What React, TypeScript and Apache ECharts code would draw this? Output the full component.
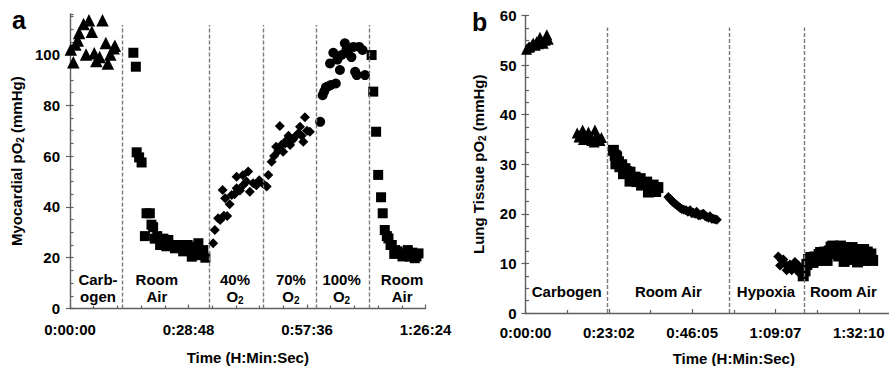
import React, { useEffect, useRef } from 'react';
import * as echarts from 'echarts';

// ---------- tick labels ----------
const aTickLabels = ['0:00:00', '0:28:48', '0:57:36', '1:26:24'];
const bTickLabels = ['0:00:00', '0:23:02', '0:46:05', '1:09:07', '1:32:10'];

// ---------- panel a (minutes, mmHg) ----------
const aCarbogen = [[0.2, 102], [0.8, 97], [1.3, 104], [1.9, 105.5], [2.2, 108.5], [3.3, 112], [3.9, 100], [4.6, 113.5], [5.3, 109], [5.9, 100.5], [6.4, 97.5], [7.2, 99], [7.9, 113.5], [8.7, 104.5], [9.2, 96.5], [9.8, 100], [10.6, 102.5], [10.9, 103.5]];
const aRoomAir1 = [[15.4, 100.7], [16.0, 95.2], [16.2, 61.5], [16.8, 59.5], [17.4, 57.5], [18.2, 28.5], [18.6, 37.5], [19.4, 37.5], [19.8, 33], [20.2, 32], [20.6, 27.5], [21.2, 28.5], [21.9, 25], [22.7, 27.5], [23.4, 24.5], [23.9, 27], [24.7, 25], [25.5, 23.7], [26.2, 24.5], [26.7, 25], [27.5, 22.5], [27.9, 24.3], [28.6, 25], [29.2, 23], [29.6, 20.4], [30.2, 22], [30.8, 24.3], [31.2, 25.7], [31.6, 21], [32.4, 23], [32.9, 20]];
const a40O2 = [[34.8, 25.7], [35.2, 30.9], [36.0, 35.5], [36.5, 34.8], [37.1, 46.7], [37.4, 36.5], [37.7, 43.4], [38.2, 36.4], [38.8, 41], [39.3, 44.7], [40.0, 45], [40.5, 47.3], [40.5, 51.9], [41.3, 46.5], [42.0, 52.5], [42.1, 48.6], [42.9, 50], [43.3, 53.9], [43.7, 46], [44.5, 49.3], [45.3, 48.5], [46.0, 50.5], [47.0, 49], [47.8, 48], [48.2, 52.6]];
const a70O2 = [[49.0, 57.8], [49.6, 60], [50.1, 63.7], [50.6, 62], [51.0, 71.9], [51.4, 64.5], [51.8, 61.7], [52.3, 65], [52.7, 66.3], [53.1, 68], [53.5, 64.4], [54.2, 66.5], [54.7, 67.6], [55.5, 69], [55.9, 71.6], [56.3, 68], [56.7, 65.7], [57.1, 75.3], [57.6, 70], [58.3, 69.6]];
const a100O2 = [[60.8, 73.5], [61.4, 84], [61.8, 85.5], [62.2, 87.1], [62.8, 87.5], [63.2, 96.5], [63.4, 88], [64.0, 100.7], [64.6, 88.6], [65.0, 98], [65.6, 93.9], [66.0, 99.8], [66.8, 104.4], [67.2, 102], [67.6, 100.5], [68.4, 99], [68.9, 103], [69.3, 93.2], [69.7, 91.9], [70.3, 103], [71.1, 101.8], [71.7, 91.9]];
const aRoomAir2 = [[73.3, 99.8], [73.7, 85.4], [74.4, 69.6], [74.9, 52.6], [75.6, 43.8], [76.0, 37.5], [76.5, 30.9], [77.0, 28.5], [77.4, 27.6], [77.9, 25], [78.2, 25], [78.8, 21.5], [79.0, 23], [79.6, 22.5], [80.2, 21.7], [80.8, 20.5], [81.4, 21], [82.1, 23], [82.6, 20.4], [83.2, 22], [83.8, 19.8], [84.2, 20.5], [84.7, 21.7]];
const aBoundaries = [12.64, 33.86, 47.08, 59.86, 72.74];
const aPhaseLabels = ['Carb-\nogen', 'Room\nAir', '40%\nO{sub|2}', '70%\nO{sub|2}', '100%\nO{sub|2}', 'Room\nAir'];
const aPhaseLabelX = [6.8, 21.1, 40.1, 53.7, 66.0, 80.7];

// ---------- panel b (minutes, mmHg) ----------
const bCarbogen1 = [[0.3, 53.2], [0.8, 53.6], [1.2, 53.7], [1.9, 54.2], [2.2, 54.4], [2.7, 54], [3.1, 54.7], [3.6, 54.3], [4.0, 55.6], [4.5, 54.8], [4.9, 54.4], [5.4, 55], [5.9, 56.1], [6.3, 55.2]];
const bCarbogen2 = [[14.3, 36.3], [14.8, 35.5], [15.1, 35.9], [15.8, 36.9], [16.0, 35], [16.7, 35.2], [17.4, 36.5], [17.9, 35.6], [18.3, 34.8], [19.0, 34.5], [19.2, 36.9], [19.6, 35.7], [20.2, 35.2], [20.6, 34.8], [21.0, 35.4]];
const bRoomAir1 = [[24.3, 32.8], [24.8, 31.8], [25.2, 31.5], [25.0, 30.1], [25.7, 30.5], [26.1, 29.5], [26.6, 29.9], [27.1, 28.1], [27.5, 29.1], [28.0, 28.5], [28.9, 28.4], [28.9, 26.6], [29.4, 26.8], [30.3, 27.4], [30.8, 26.5], [31.7, 27.1], [32.1, 25.8], [32.8, 26], [33.5, 26.4], [34.0, 24.4], [34.6, 25.2], [35.3, 25.8], [36.0, 24.5], [36.6, 25.3]];
const bRoomAir1Late = [[39.5, 23.4], [40.0, 23], [40.4, 22.7], [40.9, 22.3], [41.3, 22.1], [41.8, 21.8], [42.3, 21.5], [42.8, 21.2], [43.2, 21], [43.8, 20.8], [44.4, 20.7], [44.9, 20.4], [45.5, 20.7], [46.0, 20.1], [46.4, 20.2], [46.9, 20], [47.3, 20.4], [47.8, 19.7], [48.3, 19.7], [48.8, 19.9], [49.2, 20], [49.7, 19.5], [50.1, 19.4], [50.6, 19.2], [51.0, 19.5], [51.5, 19], [51.9, 19.0], [52.4, 18.9], [52.9, 18.8]];
const bHypoxia = [[69.9, 11.4], [70.4, 9.6], [70.9, 10.6], [71.3, 10.8], [71.8, 9.9], [72.2, 8.6], [72.7, 9.3], [73.1, 9.8], [73.6, 8.6], [74.1, 9.6], [74.5, 10.3], [75.0, 8.6], [75.5, 9.6], [75.9, 7.9], [76.2, 9.0]];
const bRoomAir2 = [[76.8, 7.5], [77.3, 8.5], [77.8, 9.8], [78.3, 10.8], [78.9, 11.2], [79.5, 10.2], [80.0, 11.3], [80.6, 10.6], [81.2, 11.8], [81.6, 12.2], [82.2, 11], [82.8, 12.3], [83.4, 10.6], [84.0, 12.5], [84.5, 13.3], [85.0, 13.5], [85.5, 12], [86.0, 13.4], [86.6, 11.5], [87.1, 13.5], [87.6, 12.6], [88.1, 10.4], [88.6, 13.2], [89.2, 12], [89.7, 10.8], [90.3, 13.2], [90.8, 12.8], [91.3, 11.4], [91.8, 10.3], [92.3, 12.6], [92.9, 11.4], [93.5, 12.8], [94.0, 10.6], [94.5, 12.3], [95.0, 11.2], [95.5, 11.9], [96.0, 10.6]];
const bBoundaries = [22.73, 56.36, 77.0];
const bPhaseLabels = ['Carbogen', 'Room Air', 'Hypoxia', 'Room Air'];
const bPhaseLabelX = [11.4, 39.5, 66.5, 87.9];

const FONT = '"Liberation Sans", Arial, Helvetica, sans-serif';
const AXIS_COLOR = '#5f5f5f';
const A_MAJOR = 28.8;
const B_MAJOR = 23.04;

const subRich = {
  sub: { fontSize: 10, fontWeight: 'bold', fontFamily: FONT, color: '#000', fill: '#000', lineHeight: 10, verticalAlign: 'bottom' },
};

function timeFormatter(labels: string[], major: number) {
  return (v: number) => {
    const i = Math.round(v / major);
    return Math.abs(v - i * major) < 1e-6 && labels[i] !== undefined ? labels[i] : '';
  };
}

function xAxisCfg(gridIndex: number, max: number, major: number, labels: string[], minorSplit: number, margin: number, nameGap: number) {
  return {
    type: 'value', gridIndex, min: 0, max, interval: major,
    name: 'Time (H:Min:Sec)', nameLocation: 'middle', nameGap,
    nameTextStyle: { fontSize: 15, fontWeight: 'bold', color: '#000', fontFamily: FONT, lineHeight: 15 },
    axisLine: { show: true, lineStyle: { color: AXIS_COLOR, width: 1.4 } },
    axisTick: { show: true, inside: true, length: 4, lineStyle: { color: AXIS_COLOR, width: 1.2 } },
    minorTick: { show: true, splitNumber: minorSplit, length: 3, lineStyle: { color: AXIS_COLOR, width: 1.2 } },
    splitLine: { show: false },
    axisLabel: { show: true, showMaxLabel: max / major === Math.round(max / major) && labels.length > Math.round(max / major), margin, fontSize: 15, fontWeight: 'bold', color: '#000', fontFamily: FONT, lineHeight: 16, formatter: timeFormatter(labels, major) },
  };
}

function yAxisMain(gridIndex: number, max: number, interval: number, name: string, nameGap: number, margin: number, showMax: boolean) {
  return {
    type: 'value', gridIndex, position: 'left', min: 0, max, interval,
    name, nameLocation: 'middle', nameGap,
    nameTextStyle: { fontSize: 15, fontWeight: 'bold', color: '#000', fontFamily: FONT, lineHeight: 18, rich: subRich },
    axisLine: { show: true, lineStyle: { color: AXIS_COLOR, width: 1.4 } },
    axisTick: { show: true, inside: false, length: 4, lineStyle: { color: AXIS_COLOR, width: 1.2 } },
    splitLine: { show: false },
    axisLabel: { show: true, showMaxLabel: showMax, margin, fontSize: 15, fontWeight: 'bold', color: '#000', fontFamily: FONT },
  };
}

function yAxisMinor(gridIndex: number, max: number, interval: number) {
  return {
    type: 'value', gridIndex, position: 'left', offset: 0, min: 0, max, interval,
    axisLine: { show: false },
    axisTick: { show: true, inside: true, length: 3.5, lineStyle: { color: AXIS_COLOR, width: 1.2 } },
    splitLine: { show: false },
    axisLabel: { show: false },
  };
}

function scatter(data: number[][], symbol: string, size: number, xi: number, yi: number, extra: any = {}) {
  return {
    type: 'scatter', data, symbol, symbolSize: size, xAxisIndex: xi, yAxisIndex: yi,
    itemStyle: { color: '#000', opacity: 1 }, silent: true, ...extra,
  };
}

function boundaryLines(xs: number[], top: number) {
  return {
    silent: true, symbol: ['none', 'none'], animation: false,
    label: { show: false },
    lineStyle: { color: '#7a7a7a', width: 1.4, type: [4, 2] },
    emphasis: { disabled: true },
    data: xs.map((x) => [{ coord: [x, 0] }, { coord: [x, top] }]),
  };
}

export default function App() {
  const ref = useRef<HTMLDivElement>(null);
  useEffect(() => {
    if (!ref.current) return;
    const chart = echarts.init(ref.current, null, { renderer: 'svg' });
    const option: any = {
      animation: false,
      backgroundColor: '#fff',
      textStyle: { fontFamily: FONT },
      grid: [
        { left: 70, top: 13.9, width: 355.5, height: 294.6, containLabel: false, outerBoundsMode: 'none' },
        { left: 525.5, top: 15.5, width: 416.6, height: 297.5, containLabel: false, outerBoundsMode: 'none' },
      ],
      xAxis: [
        xAxisCfg(0, 86.4, A_MAJOR, aTickLabels, 5, 13, 41),
        xAxisCfg(1, 115.2, B_MAJOR, bTickLabels, 2, 11.5, 37.5),
      ],
      yAxis: [
        yAxisMain(0, 116, 20, 'Myocardial pO{sub|2} (mmHg)', 45, 10, false),
        yAxisMinor(0, 116, 5),
        yAxisMain(1, 60, 10, 'Lung Tissue pO{sub|2} (mmHg)', 38, 9, true),
        yAxisMinor(1, 60, 2.5),
      ],
      series: [
        scatter(aCarbogen, 'triangle', 12.5, 0, 0, { markLine: boundaryLines(aBoundaries, 111.6) }),
        scatter(aRoomAir1, 'rect', 10, 0, 0),
        scatter(a40O2, 'diamond', 10, 0, 0),
        scatter(a70O2, 'diamond', 10, 0, 0),
        scatter(a100O2, 'circle', 10, 0, 0),
        scatter(aRoomAir2, 'rect', 10, 0, 0),
        scatter(bCarbogen1, 'triangle', 11, 1, 2, { markLine: boundaryLines(bBoundaries, 57.6) }),
        scatter(bCarbogen2, 'triangle', 11, 1, 2),
        scatter(bRoomAir1, 'rect', 11, 1, 2),
        scatter(bRoomAir1Late, 'diamond', 10, 1, 2),
        scatter(bHypoxia, 'diamond', 10, 1, 2),
        scatter(bRoomAir2, 'rect', 11, 1, 2),
      ],
    };
    chart.setOption(option);

    const labelStyle = (text: string) => ({
      text, fontSize: 15, fontWeight: 'bold', fontFamily: FONT, fill: '#000',
      align: 'center', verticalAlign: 'middle', lineHeight: 17, rich: subRich,
    });
    const graphics: any[] = [
      { type: 'text', x: 12, y: 20, style: { text: 'a', fontSize: 25, fontWeight: 'bold', fontFamily: FONT, fill: '#000', align: 'left', verticalAlign: 'middle' } },
      { type: 'text', x: 472, y: 21.5, style: { text: 'b', fontSize: 25, fontWeight: 'bold', fontFamily: FONT, fill: '#000', align: 'left', verticalAlign: 'middle' } },
    ];
    aPhaseLabels.forEach((t, i) => {
      const p = chart.convertToPixel({ xAxisIndex: 0, yAxisIndex: 0 }, [aPhaseLabelX[i], 7.9]) as number[];
      graphics.push({ type: 'text', x: p[0], y: p[1], silent: true, style: labelStyle(t) });
    });
    bPhaseLabels.forEach((t, i) => {
      const p = chart.convertToPixel({ xAxisIndex: 1, yAxisIndex: 2 }, [bPhaseLabelX[i], 4.3]) as number[];
      graphics.push({ type: 'text', x: p[0], y: p[1], silent: true, style: labelStyle(t) });
    });
    chart.setOption({ graphic: graphics });
    return () => chart.dispose();
  }, []);
  return (
    <div style={{ position: 'fixed', left: 0, top: 0, width: 889, height: 366, overflow: 'hidden', background: '#fff' }}>
      <div ref={ref} style={{ width: 950, height: 366 }} />
    </div>
  );
}
